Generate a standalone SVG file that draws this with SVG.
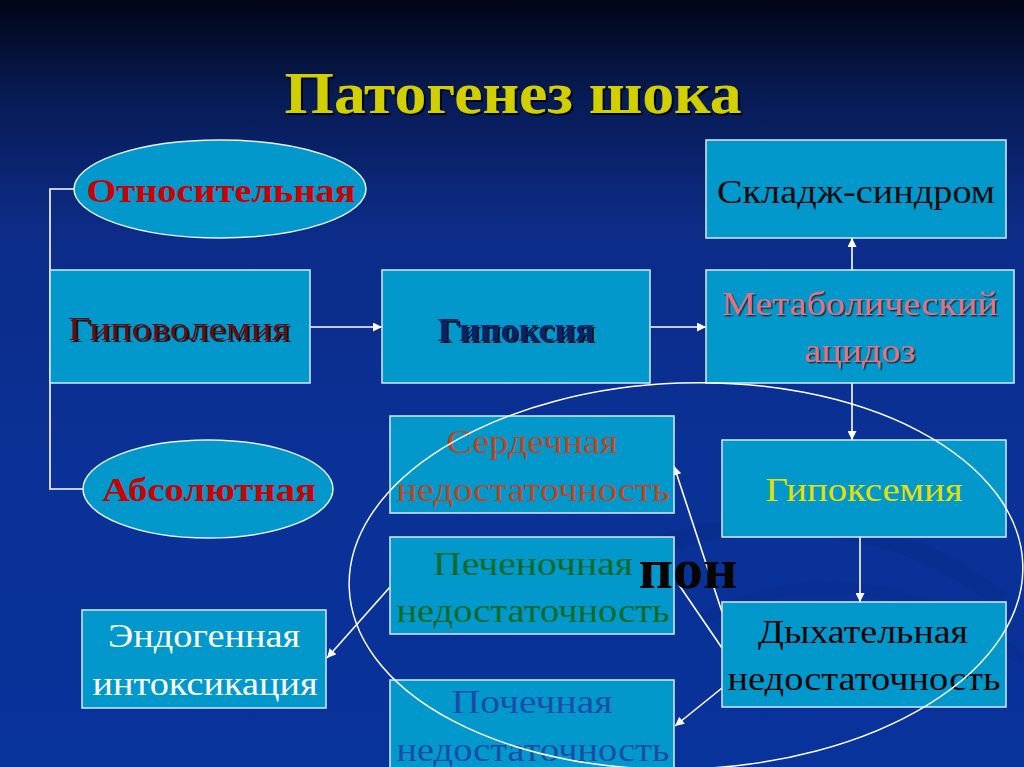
<svg xmlns="http://www.w3.org/2000/svg" width="1024" height="767" viewBox="0 0 1024 767">
<defs>
<linearGradient id="bg" x1="0" y1="0" x2="0" y2="1">
<stop offset="0" stop-color="#000516"/>
<stop offset="0.12" stop-color="#071a52"/>
<stop offset="0.3" stop-color="#0c2c88"/>
<stop offset="0.6" stop-color="#0a3196"/>
<stop offset="1" stop-color="#08339a"/>
</linearGradient>
<filter id="sh" x="-10%" y="-30%" width="130%" height="170%">
<feDropShadow dx="2" dy="2" stdDeviation="0.6" flood-color="#000" flood-opacity="0.85"/>
</filter>
<filter id="shs" x="-10%" y="-30%" width="130%" height="170%">
<feDropShadow dx="1.5" dy="1.5" stdDeviation="0.5" flood-color="#1a1a1a" flood-opacity="0.8"/>
</filter>
<marker id="ah" viewBox="0 0 10 10" refX="10" refY="5" markerWidth="10" markerHeight="9" markerUnits="userSpaceOnUse" orient="auto">
<path d="M0,0 L10,5 L0,10 z" fill="#ffffff"/>
</marker>
<style>
.box{fill:#0398cc;stroke:#d6ecf7;stroke-width:1.5}
.ell{fill:#0398cc;stroke:#e6f3fa;stroke-width:1.5}
.t{font-family:"Liberation Serif","Times New Roman",serif;font-size:34px;text-anchor:middle}
.tb{font-family:"Liberation Serif","Times New Roman",serif;font-size:34px;font-weight:bold;text-anchor:middle}
.ln{fill:none;stroke:#ffffff;stroke-width:1.6}
</style>
</defs>
<rect x="0" y="0" width="1024" height="767" fill="url(#bg)"/>
<g id="swirl" fill="none" stroke="#062a80" stroke-opacity="0.3">
<path d="M620,560 C760,500 900,520 1000,600" stroke-width="18"/>
<path d="M700,620 C820,560 930,590 1024,660" stroke-width="12"/>
</g>

<text id="title" x="513" y="113" font-family="'Liberation Serif','Times New Roman',serif" font-size="60" font-weight="bold" fill="#d2cf00" text-anchor="middle" textLength="457" lengthAdjust="spacingAndGlyphs" filter="url(#sh)">Патогенез шока</text>

<g id="connectors">
<polyline class="ln" points="74,189 50,189 50,489 83,489"/>
<line class="ln" x1="310" y1="327" x2="382" y2="327" marker-end="url(#ah)"/>
<line class="ln" x1="650" y1="327" x2="706" y2="327" marker-end="url(#ah)"/>
<line class="ln" x1="852" y1="270" x2="852" y2="238" marker-end="url(#ah)"/>
<line class="ln" x1="852" y1="383" x2="852" y2="440" marker-end="url(#ah)"/>
<line class="ln" x1="860" y1="537" x2="860" y2="602" marker-end="url(#ah)"/>
<line class="ln" x1="722" y1="612" x2="674" y2="466" marker-end="url(#ah)"/>
<line class="ln" x1="722" y1="648" x2="679" y2="585"/>
<line class="ln" x1="722" y1="688" x2="675" y2="726" marker-end="url(#ah)"/>
<line class="ln" x1="390" y1="587" x2="327" y2="658" marker-end="url(#ah)"/>
</g>

<g id="n-otnos">
<ellipse class="ell" cx="220" cy="189" rx="146" ry="49"/>
<text class="tb" x="221" y="202" fill="#cc0000" textLength="269" lengthAdjust="spacingAndGlyphs">Относительная</text>
</g>
<g id="n-abs">
<ellipse class="ell" cx="208" cy="489" rx="125" ry="49"/>
<text class="tb" x="209" y="501" fill="#cc0000" textLength="214" lengthAdjust="spacingAndGlyphs">Абсолютная</text>
</g>
<g id="n-gipovol">
<rect class="box" x="50" y="270" width="260" height="113"/>
<text class="t" x="179" y="340" fill="#6a0a0a" textLength="222" lengthAdjust="spacingAndGlyphs" filter="url(#sh)">Гиповолемия</text>
</g>
<g id="n-gipoksia">
<rect class="box" x="382" y="270" width="268" height="113"/>
<text class="t" x="516" y="341" fill="#0c2466" font-weight="bold" textLength="157" lengthAdjust="spacingAndGlyphs" filter="url(#sh)">Гипоксия</text>
</g>
<g id="n-sladzh">
<rect class="box" x="706" y="140" width="300" height="98"/>
<text class="t" x="856" y="203" fill="#0a0a0a" textLength="278" lengthAdjust="spacingAndGlyphs">Складж-синдром</text>
</g>
<g id="n-metab">
<rect class="box" x="706" y="270" width="308" height="113"/>
<text class="t" x="860" y="315" fill="#e8707e" textLength="276" lengthAdjust="spacingAndGlyphs" filter="url(#shs)">Метаболический</text>
<text class="t" x="860" y="362" fill="#e8707e" textLength="111" lengthAdjust="spacingAndGlyphs" filter="url(#shs)">ацидоз</text>
</g>
<g id="n-gipoksemia">
<rect class="box" x="722" y="440" width="284" height="97"/>
<text class="t" x="864" y="501" fill="#e6e000" textLength="197" lengthAdjust="spacingAndGlyphs">Гипоксемия</text>
</g>
<g id="n-dyh">
<rect class="box" x="722" y="602" width="284" height="105"/>
<text class="t" x="863" y="643" fill="#050505" textLength="210" lengthAdjust="spacingAndGlyphs">Дыхательная</text>
<text class="t" x="864" y="690" fill="#050505" textLength="273" lengthAdjust="spacingAndGlyphs">недостаточность</text>
</g>
<g id="n-serd">
<rect class="box" x="390" y="416" width="284" height="97"/>
<text class="t" x="532" y="453" fill="#c2441c" textLength="171" lengthAdjust="spacingAndGlyphs">Сердечная</text>
<text class="t" x="533" y="501" fill="#c2441c" textLength="273" lengthAdjust="spacingAndGlyphs">недостаточность</text>
</g>
<g id="n-pechen">
<rect class="box" x="390" y="537" width="284" height="97"/>
<text class="t" x="533" y="575" fill="#0a6a28" textLength="200" lengthAdjust="spacingAndGlyphs">Печеночная</text>
<text class="t" x="533" y="622" fill="#0a6a28" textLength="273" lengthAdjust="spacingAndGlyphs">недостаточность</text>
</g>
<g id="n-pochech">
<rect class="box" x="390" y="680" width="284" height="100"/>
<text class="t" x="532" y="713" fill="#1a4ea6" textLength="161" lengthAdjust="spacingAndGlyphs">Почечная</text>
<text class="t" x="533" y="761" fill="#1a4ea6" textLength="273" lengthAdjust="spacingAndGlyphs">недостаточность</text>
</g>
<g id="n-endogen">
<rect class="box" x="82" y="610" width="244" height="98"/>
<text class="t" x="204" y="647" fill="#ffffff" textLength="192" lengthAdjust="spacingAndGlyphs">Эндогенная</text>
<text class="t" x="205" y="695" fill="#ffffff" textLength="225" lengthAdjust="spacingAndGlyphs">интоксикация</text>
</g>

<g id="pon-group">
<ellipse cx="686" cy="576" rx="337" ry="193" fill="none" stroke="#ffffff" stroke-width="1.5" transform="rotate(-2 686 576)"/>
<text x="688" y="588" font-family="'Liberation Serif','Times New Roman',serif" font-size="56" font-weight="bold" fill="#050505" text-anchor="middle" textLength="99" lengthAdjust="spacingAndGlyphs">пон</text>
</g>
</svg>
